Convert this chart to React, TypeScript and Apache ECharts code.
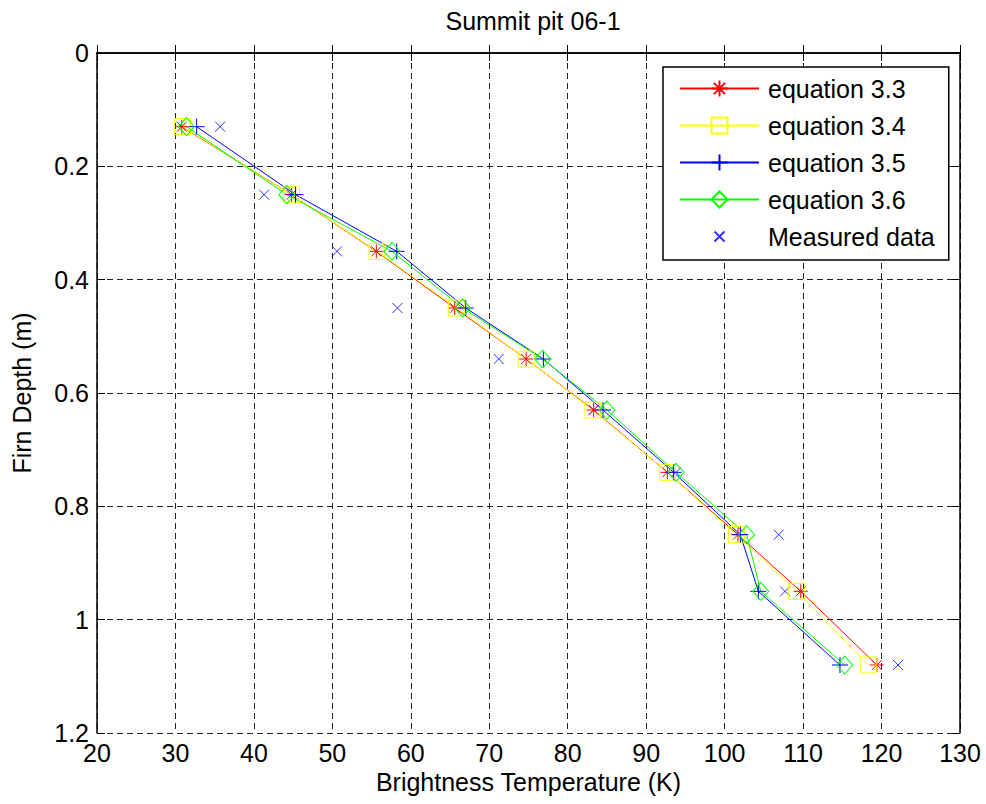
import React, { useEffect, useRef } from "react";
import * as echarts from "echarts";

const depths = [0.13, 0.25, 0.35, 0.45, 0.54, 0.63, 0.74, 0.85, 0.95, 1.08];
const eq33 = [30.8, 44.8, 55.6, 65.6, 74.7, 83.3, 92.7, 101.7, 109.7, 119.4];
const eq34 = [30.9, 44.8, 55.7, 65.8, 74.7, 83.2, 92.7, 101.5, 109.2, 118.3];
const eq35 = [32.7, 45.3, 58.2, 67.0, 76.9, 84.5, 93.5, 102.0, 104.3, 114.7];
const eq36 = [31.4, 44.2, 57.6, 66.6, 76.8, 85.0, 93.8, 102.8, 104.6, 115.3];
const measured = [35.7, 41.3, 50.6, 58.3, 71.2, 83.3, 93.8, 106.9, 107.7, 122.1];
const seriesNames = ["equation 3.3", "equation 3.4", "equation 3.5", "equation 3.6", "Measured data"];

const FONT = "'Liberation Sans', Arial, Helvetica, sans-serif";
const STAR = "path://M0,-1L0,1M-1,0L1,0M-0.7,-0.7L0.7,0.7M-0.7,0.7L0.7,-0.7";
const PLUS = "path://M0,-1L0,1M-1,0L1,0";
const XMARK = "path://M-1,-1L1,1M-1,1L1,-1";
const XMARK_LEGEND = "path://M-2,-2L-2,-2M2,2L2,2M-1,-1L1,1M-1,1L1,-1";

const pairs = (xs: number[]) => xs.map((x, i) => [x, depths[i]]);

export default function App() {
  const ref = useRef<HTMLDivElement>(null);
  useEffect(() => {
    if (!ref.current) return;
    const chart = echarts.init(ref.current, null, { renderer: "svg" });
    const clear = "rgba(0,0,0,0)";
    const lineSeries = (name: string, data: number[], color: string, symbol: string, size: any) => ({
      name,
      type: "line",
      data: pairs(data),
      symbol,
      symbolSize: size,
      showSymbol: true,
      lineStyle: { color, width: 1 },
      itemStyle: { color: clear, borderColor: color, borderWidth: 1 },
      emphasis: { disabled: true },
    });
    const axisCommonX = {
      type: "value",
      min: 20,
      max: 130,
      interval: 10,
    };
    const axisCommonY = {
      type: "value",
      min: 0,
      max: 1.2,
      interval: 0.2,
      inverse: true,
    };
    const lineBlack = { show: true, lineStyle: { color: "#000", width: 1.5 } };
    const tickIn = { show: true, inside: true, length: 8, lineStyle: { color: "#000", width: 1 } };
    chart.setOption({
      animation: false,
      backgroundColor: "#fff",
      title: {
        text: "Summit pit 06-1",
        left: 528,
        top: 3,
        textAlign: "center",
        textStyle: { fontSize: 25, fontWeight: "normal", color: "#000", fontFamily: FONT },
      },
      grid: { left: 97, right: 26, top: 53, bottom: 71, containLabel: false },
      legend: {
        orient: "vertical",
        left: 663,
        top: 67,
        padding: [9, 14, 11, 16],
        itemWidth: 79,
        itemHeight: 20,
        itemGap: 12,
        backgroundColor: "#fff",
        borderColor: "#000",
        borderWidth: 1.5,
        selectedMode: false,
        textStyle: { fontSize: 25, fontFamily: FONT, color: "#000", lineHeight: 25, padding: [0, 0, 0, 4] },
        data: [
          { name: seriesNames[0] },
          { name: seriesNames[1] },
          { name: seriesNames[2] },
          { name: seriesNames[3] },
          { name: seriesNames[4], icon: XMARK_LEGEND },
        ],
      },
      xAxis: [
        {
          ...axisCommonX,
          position: "bottom",
          name: "Brightness Temperature (K)",
          nameLocation: "middle",
          nameGap: 36,
          nameTextStyle: { fontSize: 25, color: "#000", fontFamily: FONT },
          axisLine: lineBlack,
          axisTick: tickIn,
          axisLabel: { fontSize: 25, color: "#000", fontFamily: FONT, margin: 7 },
          splitLine: { show: true, lineStyle: { color: "#222", width: 1, type: [6, 4] } },
        },
        {
          ...axisCommonX,
          position: "top",
          axisLine: lineBlack,
          axisTick: tickIn,
          axisLabel: { show: false },
          splitLine: { show: false },
        },
      ],
      yAxis: [
        {
          ...axisCommonY,
          position: "left",
          name: "Firn Depth (m)",
          nameLocation: "middle",
          nameGap: 63,
          nameRotate: 90,
          nameTextStyle: { fontSize: 25, color: "#000", fontFamily: FONT },
          axisLine: lineBlack,
          axisTick: tickIn,
          axisLabel: {
            fontSize: 25,
            color: "#000",
            fontFamily: FONT,
            margin: 8,
            formatter: (v: number) => String(Math.round(v * 10) / 10),
          },
          splitLine: { show: true, lineStyle: { color: "#222", width: 1, type: [6, 4] } },
        },
        {
          ...axisCommonY,
          position: "right",
          axisLine: lineBlack,
          axisTick: tickIn,
          axisLabel: { show: false },
          splitLine: { show: false },
        },
      ],
      series: [
        lineSeries(seriesNames[0], eq33, "#ff0000", STAR, 14),
        lineSeries(seriesNames[1], eq34, "#ffff00", "rect", 16),
        lineSeries(seriesNames[2], eq35, "#0000ff", PLUS, 16),
        lineSeries(seriesNames[3], eq36, "#00ff00", "diamond", [16, 18]),
        {
          name: seriesNames[4],
          type: "scatter",
          data: pairs(measured),
          symbol: XMARK,
          symbolSize: 10,
          itemStyle: { color: clear, borderColor: "#0000ff", borderWidth: 1 },
          emphasis: { disabled: true },
        },
      ],
    });
    return () => chart.dispose();
  }, []);
  return <div ref={ref} style={{ width: 986, height: 804, position: "absolute", left: 0, top: 0 }} />;
}
